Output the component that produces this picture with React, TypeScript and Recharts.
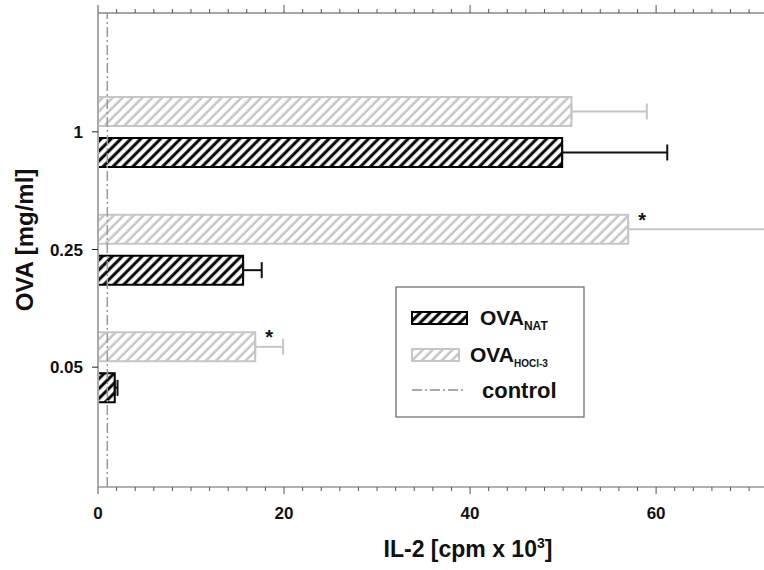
import React from 'react';
import { BarChart, Bar, XAxis, YAxis, ErrorBar, ReferenceLine, LabelList, Label } from 'recharts';

const doses = ['1', '0.25', '0.05'];
const natValues = [49.9, 15.6, 1.8];
const natErrors = [11.3, 2.0, 0.3];
const hoclValues = [50.9, 57.0, 16.9];
const hoclErrors = [8.1, 20.0, 3.0];
const hoclMarks = ['', '*', '*'];
const controlLevel = 1;
const xTicks = [0, 2, 4, 6, 8, 10, 12, 14, 16, 18, 20, 22, 24, 26, 28, 30, 32, 34, 36, 38, 40, 42, 44, 46, 48, 50, 52, 54, 56, 58, 60, 62, 64, 66, 68, 70];
const labelledTicks = [0, 20, 40, 60];

const data = doses.map((dose, i) => ({
  dose,
  nat: natValues[i],
  natErr: [0, natErrors[i]],
  hocl: hoclValues[i],
  hoclErr: [0, hoclErrors[i]],
  mark: hoclMarks[i],
}));

const FONT = '"Liberation Sans", Arial, sans-serif';
const GREY = '#c6c6c6';

const BottomTick = (props: any) => {
  const { x, y, payload } = props;
  const major = labelledTicks.includes(payload.value);
  return (
    <g>
      <line x1={x} x2={x} y1={y} y2={y + (major ? 7 : 4)} stroke="#555" strokeWidth={1} />
      {major && (
        <text x={x} y={y + 32} textAnchor="middle" fontFamily={FONT} fontWeight="bold" fontSize={17} fill="#111">
          {payload.value}
        </text>
      )}
    </g>
  );
};

const TopTick = (props: any) => {
  const { x, y, payload } = props;
  const major = labelledTicks.includes(payload.value);
  return <line x1={x} x2={x} y1={y} y2={y - (major ? 8 : 4)} stroke="#555" strokeWidth={1} />;
};

const XTitle = () => (
  <text x={468} y={557} textAnchor="middle" fontFamily={FONT} fontWeight="bold" fontSize={23} fill="#111">
    IL-2 [cpm x 10
    <tspan dy={-9} fontSize={14}>3</tspan>
    <tspan dy={9}>]</tspan>
  </text>
);

const YTitle = () => (
  <text
    x={33}
    y={240}
    transform="rotate(-90 33 240)"
    textAnchor="middle"
    fontFamily={FONT}
    fontWeight="bold"
    fontSize={24}
    fill="#111"
  >
    OVA [mg/ml]
  </text>
);

const Star = (props: any) => {
  const { x, y, width, value } = props;
  if (!value) return null;
  return (
    <text x={x + width + 14} y={y + 12} textAnchor="middle" fontFamily={FONT} fontWeight="bold" fontSize={20} fill="#111">
      {value}
    </text>
  );
};

const Hatch = ({ id, color, w }: { id: string; color: string; w: number }) => (
  <pattern id={id} patternUnits="userSpaceOnUse" width={7} height={7} patternTransform="rotate(45)">
    <rect width={7} height={7} fill="#fff" />
    <line x1={1.75} y1={0} x2={1.75} y2={7} stroke={color} strokeWidth={w} />
  </pattern>
);

const LegendBox = () => (
  <svg width={190} height={132} style={{ position: 'absolute', left: 395, top: 286 }}>
    <defs>
      <Hatch id="lgNat" color="#000" w={3} />
      <Hatch id="lgHocl" color={GREY} w={2.5} />
    </defs>
    <rect x={1} y={1} width={188} height={130} fill="#fff" stroke="#666" strokeWidth={1.2} />
    <rect x={17} y={26} width={55} height={12} fill="url(#lgNat)" stroke="#000" strokeWidth={2} />
    <text x={85} y={39} fontFamily={FONT} fontWeight="bold" fontSize={21} fill="#111">
      OVA
      <tspan dy={5} fontSize={12}>NAT</tspan>
    </text>
    <rect x={17} y={63} width={47} height={12} fill="url(#lgHocl)" stroke={GREY} strokeWidth={2} />
    <text x={75} y={76} fontFamily={FONT} fontWeight="bold" fontSize={21} fill="#111">
      OVA
      <tspan dy={5} fontSize={10}>HOCl-3</tspan>
    </text>
    <line x1={17} x2={70} y1={104} y2={104} stroke="#555" strokeWidth={1.2} strokeDasharray="10 3 2 3" />
    <text x={87} y={112} fontFamily={FONT} fontWeight="bold" fontSize={22} fill="#111">
      control
    </text>
  </svg>
);

export default function App() {
  return (
    <div style={{ position: 'absolute', left: 0, top: 0, width: 764, height: 570, background: '#fff' }}>
      <BarChart
        width={764}
        height={570}
        data={data}
        layout="vertical"
        margin={{ top: 3, right: 0, bottom: 0, left: 0 }}
        barSize={29}
        barGap={12}
      >
        <defs>
          <Hatch id="hatchNat" color="#000" w={3} />
          <Hatch id="hatchHocl" color={GREY} w={2.5} />
        </defs>
        <XAxis
          xAxisId="bottom"
          type="number"
          domain={[0, 71.6]}
          allowDataOverflow
          ticks={xTicks}
          interval={0}
          height={83}
          tickSize={0}
          tickMargin={0}
          tickLine={false}
          axisLine={{ stroke: '#999', strokeWidth: 1.5 }}
          tick={<BottomTick />}
        >
          <Label content={<XTitle />} />
        </XAxis>
        <XAxis
          xAxisId="top"
          orientation="top"
          type="number"
          domain={[0, 71.6]}
          allowDataOverflow
          ticks={xTicks}
          interval={0}
          height={10}
          tickSize={0}
          tickMargin={0}
          tickLine={false}
          axisLine={{ stroke: '#888', strokeWidth: 1.5 }}
          tick={<TopTick />}
        />
        <YAxis
          type="category"
          dataKey="dose"
          width={98}
          padding={{ top: 60, bottom: 61 }}
          tickSize={6}
          tickMargin={9}
          tickLine={{ stroke: '#222' }}
          axisLine={{ stroke: '#aaa', strokeWidth: 2 }}
          tick={{ fill: '#111', fontSize: 17, fontWeight: 'bold', fontFamily: FONT }}
        >
          <Label content={<YTitle />} />
        </YAxis>
        <ReferenceLine
          xAxisId="bottom"
          x={controlLevel}
          stroke="#999"
          strokeWidth={1.5}
          strokeDasharray="10 3 2 3"
        />
        <Bar xAxisId="bottom" dataKey="hocl" fill="url(#hatchHocl)" stroke={GREY} strokeWidth={2} isAnimationActive={false}>
          <ErrorBar dataKey="hoclErr" direction="x" width={8} stroke={GREY} strokeWidth={2} isAnimationActive={false} />
          <LabelList dataKey="mark" content={<Star />} />
        </Bar>
        <Bar xAxisId="bottom" dataKey="nat" fill="url(#hatchNat)" stroke="#000" strokeWidth={2} isAnimationActive={false}>
          <ErrorBar dataKey="natErr" direction="x" width={8} stroke="#111" strokeWidth={2} isAnimationActive={false} />
        </Bar>
      </BarChart>
      <LegendBox />
    </div>
  );
}
